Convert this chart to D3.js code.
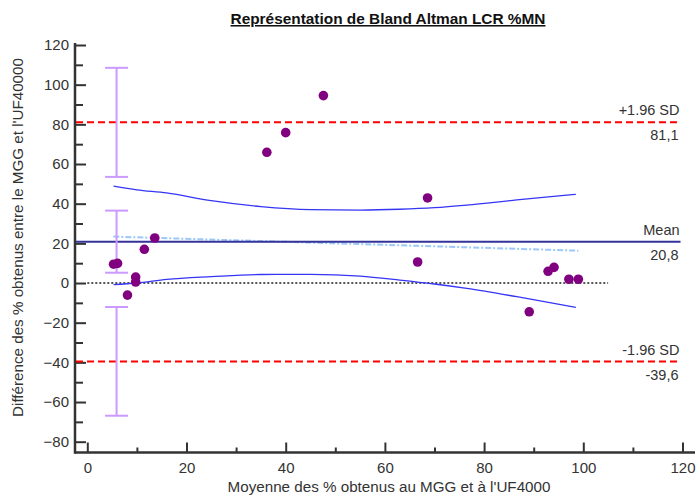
<!DOCTYPE html>
<html>
<head>
<meta charset="utf-8">
<script src="https://cdn.jsdelivr.net/npm/d3@7"></script>
<style>
  html, body { margin: 0; padding: 0; background: #fff; }
  svg { display: block; font-family: "Liberation Sans", Arial, sans-serif; }
</style>
</head>
<body>
<svg id="chart" width="696" height="495"></svg>
<script>
// ---- data ----
const title = "Représentation de Bland Altman LCR %MN";
const xTitle = "Moyenne des % obtenus au MGG et à l'UF4000";
const yTitle = "Différence des % obtenus entre le MGG et l'UF40000";

const pointX = [47.6, 40.0, 36.2, 13.6, 11.5, 68.6, 5.3, 6.1, 9.75, 9.75, 8.1, 66.6, 92.9, 94.1, 97.1, 99.0, 89.1];
const pointY = [94.5, 75.8, 65.9, 22.7, 17.0, 42.9, 9.5, 9.9, 3.0, 0.5, -6.1, 10.6, 5.9, 7.9, 1.9, 1.9, -14.5];

const meanDiff = 20.8;
const upperLoA = 81.1;
const lowerLoA = -39.6;
const refLabels = ["+1.96 SD", "Mean", "-1.96 SD"];
const refValueLabels = ["81,1", "20,8", "-39,6"];

// confidence intervals (bars)
const ciX = 5.9;
const ciLow = [53.5, 5.2, -66.9];
const ciHigh = [108.5, 36.5, -12.1];

// regression line
const regX = [5.25, 99.0];
const regY = [23.4, 16.3];

// regression confidence band
const bandX = [5.3, 10, 16, 25, 35, 45, 55, 63, 70, 76.5, 86.6, 98.5];
const bandUpper = [48.8, 47.0, 45.4, 41.5, 38.5, 37.0, 36.8, 37.2, 38.0, 39.3, 41.9, 44.7];
const bandLower = [-0.8, 0.0, 1.8, 3.2, 4.3, 4.4, 3.5, 1.5, -0.5, -2.7, -6.9, -12.3];

const xMajor = [0, 20, 40, 60, 80, 100, 120];
const xMinor = [10, 30, 50, 70, 90, 110];
const yMajor = [-80, -60, -40, -20, 0, 20, 40, 60, 80, 100, 120];
const yMinor = [-70, -50, -30, -10, 10, 30, 50, 70, 90, 110];

// ---- chart ----
const svg = d3.select("#chart");
const axisColor = "#333";

const x = d3.scaleLinear().domain([0, 120]).range([87.3, 682.5]);
const y = d3.scaleLinear().domain([-80, 120]).range([441.7, 45]);

const axLeft = 75, axBottom = 452.5, axRight = 695, axTop = 43;
const lineEnd = 119.6;

// title
svg.append("text")
  .attr("x", 388).attr("y", 24)
  .attr("text-anchor", "middle")
  .attr("font-size", 15.4).attr("font-weight", "bold")
  .attr("fill", "#111")
  .attr("text-decoration", "underline")
  .text(title);

// axes
const gx = svg.append("g").attr("transform", `translate(0,${axBottom})`);
gx.call(d3.axisBottom(x).tickValues(xMajor).tickSize(-10).tickPadding(10).tickFormat(d3.format("d")));
gx.append("g").call(d3.axisBottom(x).tickValues(xMinor).tickSize(-5).tickFormat(""));
gx.selectAll(".domain").remove();
gx.selectAll("line").attr("stroke", axisColor).attr("stroke-width", 2);
gx.selectAll("text").attr("font-size", 15).attr("fill", axisColor).attr("font-family", "Liberation Sans, Arial, sans-serif");

const gy = svg.append("g").attr("transform", `translate(${axLeft},0)`);
gy.call(d3.axisLeft(y).tickValues(yMajor).tickSize(-11).tickPadding(6).tickFormat(d3.format("d")));
gy.append("g").call(d3.axisLeft(y).tickValues(yMinor).tickSize(-8).tickFormat(""));
gy.selectAll(".domain").remove();
gy.selectAll("line").attr("stroke", axisColor).attr("stroke-width", 2);
gy.selectAll("text").attr("font-size", 15).attr("fill", axisColor).attr("font-family", "Liberation Sans, Arial, sans-serif");

svg.append("line").attr("x1", axLeft).attr("x2", axRight).attr("y1", axBottom).attr("y2", axBottom)
  .attr("stroke", axisColor).attr("stroke-width", 2.5);
svg.append("line").attr("x1", axLeft).attr("x2", axLeft).attr("y1", axTop).attr("y2", axBottom + 1.2)
  .attr("stroke", axisColor).attr("stroke-width", 2.5);

// axis titles
svg.append("text")
  .attr("x", 389).attr("y", 492)
  .attr("text-anchor", "middle").attr("font-size", 15.2).attr("fill", axisColor)
  .text(xTitle);
svg.append("text")
  .attr("transform", `translate(23,237.5) rotate(-90)`)
  .attr("text-anchor", "middle").attr("font-size", 15.2).attr("fill", axisColor)
  .text(yTitle);

// zero line
svg.append("line")
  .attr("x1", x(0)).attr("x2", x(105)).attr("y1", y(0)).attr("y2", y(0))
  .attr("stroke", "#555").attr("stroke-width", 2).attr("stroke-dasharray", "2,2");

// regression band
const line = d3.line().x(d => x(d[0])).y(d => y(d[1])).curve(d3.curveMonotoneX);
svg.append("path").datum(bandX.map((v, i) => [v, bandUpper[i]]))
  .attr("d", line).attr("fill", "none").attr("stroke", "#3535f5").attr("stroke-width", 1.3);
svg.append("path").datum(bandX.map((v, i) => [v, bandLower[i]]))
  .attr("d", line).attr("fill", "none").attr("stroke", "#3535f5").attr("stroke-width", 1.3);

// regression line
svg.append("path").datum(regX.map((v, i) => [v, regY[i]]))
  .attr("d", d3.line().x(d => x(d[0])).y(d => y(d[1])))
  .attr("fill", "none").attr("stroke", "#9cc8f8").attr("stroke-width", 2)
  .attr("stroke-dasharray", "6,2,2,2");

// reference lines
const refVals = [upperLoA, meanDiff, lowerLoA];
refVals.forEach((v, i) => {
  const isMean = i === 1;
  svg.append("line")
    .attr("x1", axLeft + 1).attr("x2", x(lineEnd))
    .attr("y1", y(v)).attr("y2", y(v))
    .attr("stroke", isMean ? "#33339a" : "#ff0000")
    .attr("stroke-width", isMean ? 2.2 : 2)
    .attr("stroke-dasharray", isMean ? null : "7,4");
  svg.append("text")
    .attr("x", x(lineEnd) - 1).attr("y", y(v) - 7)
    .attr("text-anchor", "end").attr("font-size", 14.5).attr("fill", axisColor)
    .text(refLabels[i]);
  svg.append("text")
    .attr("x", x(lineEnd) - 2).attr("y", y(v) + 18)
    .attr("text-anchor", "end").attr("font-size", 14.5).attr("fill", axisColor)
    .text(refValueLabels[i]);
});

// CI bars
const capW = 11.5;
ciLow.forEach((lo, i) => {
  const hi = ciHigh[i];
  const g = svg.append("g").attr("stroke", "#cc99ff").attr("stroke-width", 2);
  g.append("line").attr("x1", x(ciX)).attr("x2", x(ciX)).attr("y1", y(lo)).attr("y2", y(hi));
  g.append("line").attr("x1", x(ciX) - capW).attr("x2", x(ciX) + capW).attr("y1", y(lo)).attr("y2", y(lo));
  g.append("line").attr("x1", x(ciX) - capW).attr("x2", x(ciX) + capW).attr("y1", y(hi)).attr("y2", y(hi));
});

// points
svg.append("g").selectAll("circle")
  .data(pointX.map((v, i) => [v, pointY[i]]))
  .join("circle")
  .attr("cx", d => x(d[0])).attr("cy", d => y(d[1]))
  .attr("r", 4.8).attr("fill", "#800080");
</script>
</body>
</html>
